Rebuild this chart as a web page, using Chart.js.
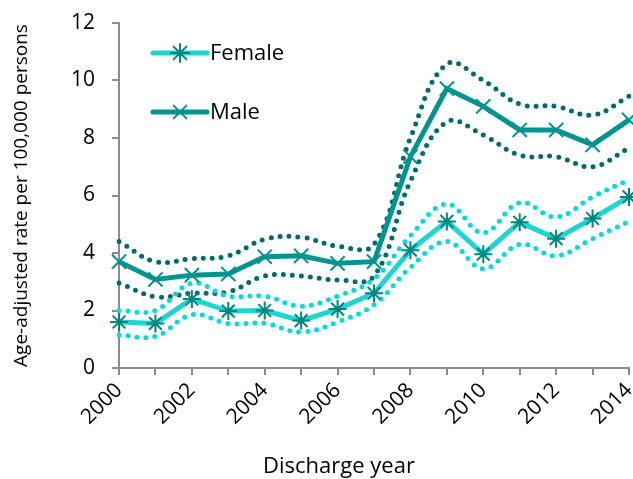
<!DOCTYPE html>
<html>
<head>
<meta charset="utf-8">
<script src="https://cdn.jsdelivr.net/npm/chart.js@4.4.1/dist/chart.umd.min.js"></script>
<style>
  html, body { margin: 0; padding: 0; background: #fff; }
  #wrap { width: 633px; height: 479px; }
</style>
</head>
<body>
<div id="wrap"><canvas id="chart"></canvas></div>
<script>
var years = ['2000','2001','2002','2003','2004','2005','2006','2007','2008','2009','2010','2011','2012','2013','2014'];
var female = [1.6, 1.55, 2.4, 1.98, 2.0, 1.65, 2.05, 2.6, 4.1, 5.1, 3.96, 5.07, 4.5, 5.2, 5.95];
var femaleUpper = [2.0, 2.0, 2.95, 2.5, 2.5, 2.15, 2.5, 3.1, 4.6, 5.7, 4.7, 5.75, 5.25, 5.95, 6.55];
var femaleLower = [1.15, 1.1, 1.85, 1.55, 1.55, 1.25, 1.6, 2.2, 3.5, 4.4, 3.45, 4.3, 3.9, 4.5, 5.1];
var male = [3.7, 3.08, 3.23, 3.27, 3.87, 3.9, 3.64, 3.7, 7.35, 9.72, 9.1, 8.28, 8.28, 7.76, 8.63];
var maleUpper = [4.4, 3.7, 3.8, 3.9, 4.48, 4.55, 4.24, 4.3, 8.0, 10.57, 10.0, 9.18, 9.1, 8.8, 9.45];
var maleLower = [2.96, 2.48, 2.6, 2.65, 3.2, 3.2, 3.06, 3.2, 6.5, 8.56, 8.1, 7.4, 7.35, 7.0, 7.65];

var FEMALE = '#1cd6d2';
var MALE = '#009490';
var FEMALE_DOT = '#00dcdc';
var MALE_DOT = '#006b68';
var FONT = '"Open Sans", sans-serif';

function ciLine(data, color) {
    return {
        data: data,
        borderColor: color,
        borderWidth: 5,
        borderDash: [0, 9],
        borderCapStyle: 'round',
        tension: 0.4,
        pointRadius: 0,
        fill: false,
        order: 2
    };
}

// legend inside the plot area + x title placed like the original
var extras = {
    id: 'extras',
    afterDraw: function (chart) {
        var ctx = chart.ctx;
        var a = chart.chartArea;
        var items = [
            { text: 'Female', color: FEMALE, mark: '#00857f', style: 'star', y: a.top + 30 },
            { text: 'Male', color: MALE, mark: MALE, style: 'crossRot', y: a.top + 89 }
        ];
        ctx.save();
        items.forEach(function (it) {
            var x0 = a.left + 34, x1 = a.left + 88;
            ctx.strokeStyle = it.color;
            ctx.lineWidth = 5;
            ctx.lineCap = 'round';
            ctx.beginPath();
            ctx.moveTo(x0, it.y);
            ctx.lineTo(x1, it.y);
            ctx.stroke();
            ctx.lineWidth = 2;
            ctx.strokeStyle = it.mark;
            Chart.helpers.drawPoint(ctx, { pointStyle: it.style, radius: 9, borderWidth: 2 }, (x0 + x1) / 2, it.y);
            ctx.fillStyle = '#000';
            ctx.font = '22px ' + FONT;
            ctx.textBaseline = 'middle';
            ctx.fillText(it.text, x1 + 3, it.y + 1);
        });
        ctx.font = '22px ' + FONT;
        ctx.textAlign = 'center';
        ctx.textBaseline = 'middle';
        ctx.fillStyle = '#000';
        ctx.fillText('Discharge year', a.left + 220, chart.height - 12);
        ctx.restore();
    }
};

new Chart(document.getElementById('chart').getContext('2d'), {
    type: 'line',
    data: {
        labels: years,
        datasets: [
            {
                label: 'Female',
                data: female,
                borderColor: FEMALE,
                borderWidth: 5,
                tension: 0,
                pointStyle: 'star',
                pointRadius: 9,
                pointBorderWidth: 2,
                pointBorderColor: '#00857f',
                pointBackgroundColor: '#00857f',
                order: 0
            },
            {
                label: 'Male',
                data: male,
                borderColor: MALE,
                borderWidth: 5,
                tension: 0,
                pointStyle: 'crossRot',
                pointRadius: 10,
                pointBorderWidth: 2,
                pointBorderColor: MALE,
                order: 0
            },
            ciLine(femaleUpper, FEMALE_DOT),
            ciLine(femaleLower, FEMALE_DOT),
            ciLine(maleUpper, MALE_DOT),
            ciLine(maleLower, MALE_DOT)
        ]
    },
    options: {
        responsive: true,
        maintainAspectRatio: false,
        animation: false,
        layout: { autoPadding: false, padding: { top: 23, right: 4, left: 0, bottom: 0 } },
        plugins: {
            legend: { display: false },
            tooltip: { enabled: false }
        },
        scales: {
            x: {
                offset: false,
                grid: {
                    display: true,
                    drawOnChartArea: false,
                    drawTicks: true,
                    tickLength: 7,
                    color: '#8c8c8c',
                    lineWidth: 2
                },
                border: { color: '#8c8c8c', width: 2 },
                ticks: {
                    autoSkip: false,
                    maxRotation: 45,
                    minRotation: 45,
                    color: '#000',
                    padding: 3,
                    font: { family: FONT, size: 21 },
                    callback: function (v, i) { return i % 2 === 0 ? years[i] : ''; }
                },
                afterFit: function (s) {
                    s.height = 111;
                    s.paddingLeft = 0;
                    s.paddingRight = 0;
                }
            },
            y: {
                min: 0,
                max: 12,
                grid: {
                    display: true,
                    drawOnChartArea: false,
                    drawTicks: true,
                    tickLength: 7,
                    color: '#8c8c8c',
                    lineWidth: 2
                },
                border: { color: '#8c8c8c', width: 2 },
                ticks: {
                    stepSize: 2,
                    color: '#000',
                    padding: 17,
                    font: { family: FONT, size: 21 }
                },
                title: {
                    display: true,
                    text: 'Age-adjusted rate per 100,000 persons',
                    color: '#000',
                    font: { family: FONT, size: 19 },
                    padding: { top: 10, bottom: 0 }
                },
                afterFit: function (s) {
                    s.width = 119;
                    s.paddingTop = 0;
                    s.paddingBottom = 0;
                }
            }
        }
    },
    plugins: [extras]
});
</script>
</body>
</html>
